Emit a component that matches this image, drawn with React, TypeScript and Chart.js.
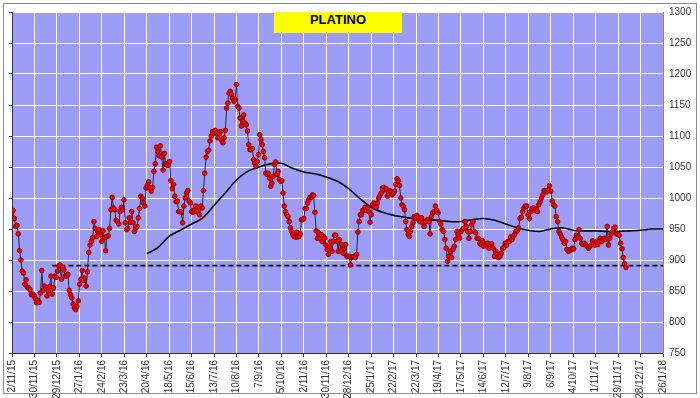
import React, { useEffect, useRef } from 'react';
import { Chart, registerables } from 'chart.js';

Chart.register(...registerables);

// X axis: trading-day index, one tick every 20 trading days
const tickLabels = [
  '2/11/15', '30/11/15', '29/12/15', '27/1/16', '24/2/16', '23/3/16', '20/4/16', '18/5/16',
  '15/6/16', '13/7/16', '10/8/16', '7/9/16', '5/10/16', '2/11/16', '30/11/16', '28/12/16',
  '25/1/17', '22/2/17', '22/3/17', '19/4/17', '17/5/17', '14/6/17', '12/7/17', '9/8/17',
  '6/9/17', '4/10/17', '1/11/17', '29/11/17', '28/12/17', '26/1/18',
];
const DAYS_PER_TICK = 20;

// Y axis
const Y_MIN = 750;
const Y_MAX = 1300;
const Y_STEP = 50;

// Platinum price, three stretches (first day, last day, values)
const priceA_days = [1, 188];
const priceA = [
  980, 967, 954, 956, 942, 915, 900, 882, 879, 861,
  868, 856, 855, 852, 844, 845, 843, 838, 831, 835,
  832, 847, 883, 851, 858, 855, 842, 850, 857, 874,
  845, 855, 874, 872, 882, 890, 892, 869, 888, 884,
  874, 874, 877, 851, 844, 839, 829, 823, 820, 825,
  834, 861, 869, 883, 867, 871, 858, 881, 912, 924,
  930, 936, 962, 951, 938, 946, 949, 941, 930, 947,
  936, 915, 938, 939, 951, 981, 1001, 984, 981, 964,
  962, 958, 978, 985, 981, 997, 960, 949, 951, 968,
  961, 978, 960, 946, 951, 954, 968, 983, 1003, 1000,
  992, 987, 1016, 1020, 1026, 1016, 1011, 1017, 1043, 1055,
  1082, 1075, 1068, 1084, 1066, 1045, 1072, 1055, 1053, 1053,
  1059, 1028, 1015, 1022, 1003, 994, 995, 978, 978, 977,
  960, 987, 1000, 1008, 1012, 995, 992, 978, 977, 981,
  987, 978, 985, 973, 987, 984, 1012, 1040, 1066, 1075,
  1077, 1092, 1100, 1107, 1104, 1109, 1105, 1097, 1104, 1107,
  1093, 1089,
];

const priceB_days = [189, 371.5];
const priceB = [
  1097, 1109, 1145, 1153, 1169, 1172, 1167, 1161, 1156, 1159,
  1183, 1148, 1145, 1129, 1116, 1124, 1134, 1121, 1118, 1108,
  1086, 1078, 1078, 1080, 1062, 1056, 1051, 1059, 1070, 1102,
  1094, 1086, 1075, 1065, 1040, 1038, 1040, 1032, 1019, 1024,
  1035, 1054, 1058, 1038, 1043, 1030, 1027, 1028, 1008, 987,
  978, 973, 970, 962, 952, 946, 941, 938, 937, 945,
  937, 938, 942, 965, 965, 967, 983, 983, 992, 997,
  1001, 1001, 1005, 1004, 977, 947, 935, 944, 935, 941,
  930, 938, 935, 924, 917, 909, 922, 930, 914, 930,
  940, 940, 930, 914, 933, 915, 925, 911, 919, 925,
  906, 906, 906, 892, 904, 905, 906, 904, 909, 945,
  962, 973, 973, 980, 981, 985, 980, 984, 978, 961,
  973, 989, 992, 985, 985, 992, 1000, 1004, 1008, 1016,
  1017, 1013, 1015, 1003, 1005, 1012, 1010, 1005, 1008, 1011,
  1022, 1031, 1028, 1020, 1000, 989, 987, 981, 962, 949,
  941, 938, 946, 954, 960, 970, 967, 972, 969, 963,
  962, 968, 960, 954, 962, 962, 965, 962,
];

const priceC_days = [372.5, 547];
const priceC = [
  942, 970, 976, 978, 987, 980, 976, 962, 958, 949,
  946, 933, 919, 898, 906, 914, 904, 917, 922, 933,
  946, 941, 935, 946, 949, 951, 962, 954, 946, 935,
  946, 957, 962, 946, 944, 935, 935, 927, 925, 931,
  922, 926, 925, 927, 919, 925, 926, 919, 906, 914,
  909, 904, 906, 911, 919, 920, 927, 924, 930, 930,
  937, 933, 938, 941, 946, 947, 952, 967, 969, 978,
  984, 987, 987, 973, 967, 978, 983, 984, 980, 982,
  978, 989, 994, 1000, 1005, 1012, 1011, 1010, 1013, 1020,
  1011, 995, 989, 987, 970, 962, 946, 942, 937, 933,
  927, 930, 917, 914, 915, 917, 919, 918, 933, 940,
  937, 949, 935, 927, 925, 927, 925, 922, 919, 922,
  924, 931, 927, 924, 930, 925, 931, 935, 930, 934,
  935, 933, 954, 924, 935, 942, 946, 951, 953, 942,
  942, 940, 927, 918, 904, 894, 888,
];

// Moving average, one value every 10 trading days starting at day 120
const MA_START_DAY = 120;
const MA_STEP_DAYS = 10;
const movingAvg = [
  910, 920, 938, 948, 958, 968, 988, 1008, 1029, 1043,
  1050, 1055, 1056, 1048, 1042, 1039, 1034, 1027, 1015, 999,
  985, 977, 972, 969, 966, 965, 964, 962, 962, 965,
  967, 964, 958, 952, 948, 946, 950, 952, 948, 947,
  947, 946, 946, 947, 948, 950, 950,
];

// Horizontal dashed support level
const SUPPORT_LEVEL = 891;
const SUPPORT_FROM_DAY = 36;
const SUPPORT_TO_DAY = 580;

const FONT_FAMILY = "'Liberation Sans Narrow', 'Arial Narrow', 'Liberation Sans', Arial, sans-serif";

function stretch(days: number[], values: number[]) {
  const [from, to] = days;
  const step = (to - from) / (values.length - 1);
  return values.map((y, i) => ({ x: from + i * step, y }));
}

const plotBg = {
  id: 'plotBg',
  beforeDraw(chart: any) {
    const { ctx, chartArea: a } = chart;
    ctx.save();
    ctx.fillStyle = '#9d9df8';
    ctx.fillRect(a.left, a.top, a.right - a.left, a.bottom - a.top);
    ctx.restore();
  },
};

export default function App() {
  const ref = useRef<HTMLCanvasElement>(null);

  useEffect(() => {
    const pricePoints = [
      ...stretch(priceA_days, priceA),
      ...stretch(priceB_days, priceB),
      ...stretch(priceC_days, priceC),
    ];
    const maPoints = movingAvg.map((y, i) => ({ x: MA_START_DAY + i * MA_STEP_DAYS, y }));
    const supportPoints = [
      { x: SUPPORT_FROM_DAY, y: SUPPORT_LEVEL },
      { x: SUPPORT_TO_DAY, y: SUPPORT_LEVEL },
    ];
    const xMax = (tickLabels.length - 1) * DAYS_PER_TICK;

    const chart = new Chart(ref.current as HTMLCanvasElement, {
      type: 'line',
      data: {
        datasets: [
          {
            label: 'Platino',
            data: pricePoints,
            borderColor: '#222244',
            borderWidth: 1,
            pointStyle: 'circle',
            pointRadius: 2.3,
            pointBackgroundColor: '#ff0000',
            pointBorderColor: '#8b0000',
            pointBorderWidth: 1,
            tension: 0,
          },
          {
            label: 'Media',
            data: maPoints,
            borderColor: '#000000',
            borderWidth: 1.6,
            pointRadius: 0,
            tension: 0.3,
          },
          {
            label: 'Soporte',
            data: supportPoints,
            borderColor: '#000000',
            borderWidth: 1.6,
            borderDash: [5, 3],
            pointRadius: 0,
          },
        ],
      },
      options: {
        animation: false,
        responsive: false,
        layout: { padding: { left: 9, top: 12, right: 0, bottom: 0 } },
        plugins: {
          legend: { display: false },
          tooltip: { enabled: false },
        },
        scales: {
          x: {
            type: 'linear',
            position: 'bottom',
            min: 0,
            max: xMax,
            afterBuildTicks: (scale: any) => {
              scale.ticks = tickLabels.map((_, i) => ({ value: i * DAYS_PER_TICK }));
            },
            afterFit: (scale: any) => {
              scale.height = 45;
            },
            ticks: {
              autoSkip: false,
              minRotation: 90,
              maxRotation: 90,
              padding: 3,
              color: '#333333',
              font: { family: FONT_FAMILY, size: 10 },
              callback: (v: any) => tickLabels[Math.round(Number(v) / DAYS_PER_TICK)] ?? '',
            },
            grid: {
              color: '#ffffff',
              lineWidth: 1,
              drawTicks: true,
              tickLength: 4,
              tickColor: '#333333',
            },
            border: { color: '#333333', width: 1 },
          },
          y: {
            type: 'linear',
            position: 'right',
            min: Y_MIN,
            max: Y_MAX,
            afterFit: (scale: any) => {
              scale.width = 37;
            },
            ticks: {
              stepSize: Y_STEP,
              padding: 6,
              color: '#333333',
              font: { family: FONT_FAMILY, size: 10 },
              callback: (v: any) => String(v),
            },
            grid: { color: '#ffffff', lineWidth: 1, drawTicks: false },
            border: { color: '#8a8a8a', width: 1 },
          },
          yLeft: {
            type: 'linear',
            position: 'left',
            min: Y_MIN,
            max: Y_MAX,
            afterFit: (scale: any) => {
              scale.width = 3;
            },
            ticks: { display: false, stepSize: Y_STEP },
            grid: {
              drawOnChartArea: false,
              drawTicks: true,
              tickLength: 3,
              tickColor: '#333333',
            },
            border: { color: '#333333', width: 1 },
          },
        },
      },
      plugins: [plotBg],
    });
    return () => chart.destroy();
  }, []);

  return (
    <div style={{ position: 'fixed', left: 0, top: 0, width: 700, height: 398, background: '#ffffff' }}>
      <canvas ref={ref} width={700} height={398} style={{ display: 'block', width: 700, height: 398 }} />
      <div
        style={{
          position: 'absolute', left: 3, top: 3, width: 692, height: 389,
          border: '1px solid #8a8a8a', pointerEvents: 'none',
        }}
      />
      <div
        style={{
          position: 'absolute', left: 274, top: 12, width: 128, height: 21,
          background: '#ffff00', color: '#000000', textAlign: 'center', lineHeight: '21px',
          font: "bold 13px 'Liberation Sans', Arial, sans-serif",
        }}
      >
        PLATINO
      </div>
    </div>
  );
}
